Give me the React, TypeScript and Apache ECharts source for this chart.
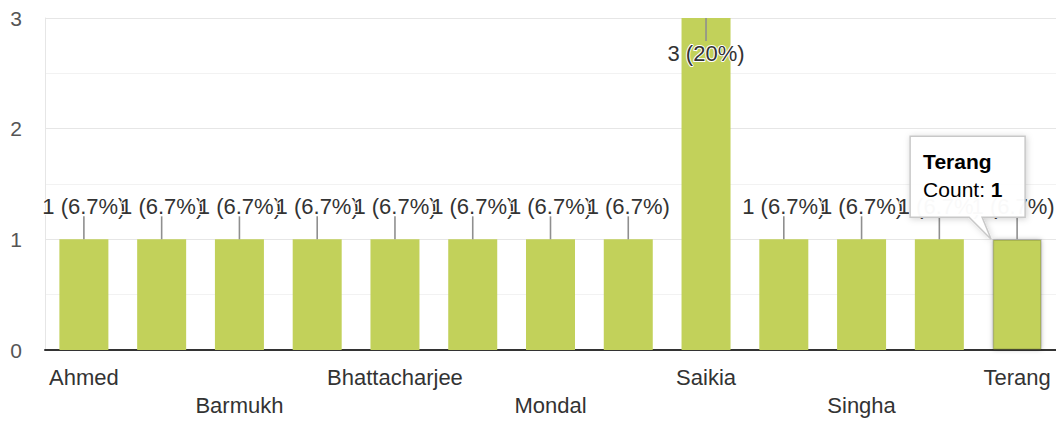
import React, { useEffect, useRef } from "react";
import * as echarts from "echarts";

const categories = [
  "Ahmed", "Ali", "Barmukh", "Baruah", "Bhattacharjee", "Das", "Mondal",
  "Nath", "Saikia", "Sarma", "Singha", "Talukdar", "Terang",
];
const counts = [1, 1, 1, 1, 1, 1, 1, 1, 3, 1, 1, 1, 1];
const yTicks = [0, 1, 2, 3];
const hoveredIndex = 12;

const FONT = "'Liberation Sans', Arial, Helvetica, sans-serif";
const BAR = "#c2d15a";

export default function App() {
  const ref = useRef<HTMLDivElement>(null);

  useEffect(() => {
    document.body.style.margin = "0";
    if (!ref.current) return;
    const chart = echarts.init(ref.current, null, { renderer: "svg" });
    const total = counts.reduce((a, b) => a + b, 0);
    const maxV = Math.max(...counts);
    const pct = (v: number) => Math.round((v / total) * 1000) / 10;

    const barData = counts.map((v, i) => {
      const inside = v === maxV;
      const item: any = {
        value: v,
        label: {
          position: inside ? "insideTop" : "top",
          distance: inside ? 24 : 22,
          offset: i === counts.length - 1 ? [-4, 0] : [0, 0],
        },
      };
      if (i === hoveredIndex) {
        item.itemStyle = {
          color: BAR,
          borderColor: "rgba(0,0,0,0.18)",
          borderWidth: 1.5,
          shadowBlur: 5,
          shadowColor: "rgba(0,0,0,0.3)",
        };
      }
      return item;
    });

    chart.setOption({
      animation: false,
      grid: { left: 45, right: 0, top: 18, bottom: 72, containLabel: false },
      xAxis: {
        type: "category",
        data: categories,
        axisLine: { show: true, lineStyle: { color: "#333333", width: 2 } },
        axisTick: { show: false },
        axisLabel: {
          interval: 1,
          fontFamily: FONT,
          fontSize: 22,
          color: "#333333",
          lineHeight: 28,
          margin: 13,
          formatter: (val: string, idx: number) => (idx % 4 === 2 ? "\n" + val : val),
        },
        splitLine: { show: false },
      },
      yAxis: {
        type: "value",
        min: yTicks[0],
        max: yTicks[yTicks.length - 1],
        interval: 1,
        axisLine: { show: true, lineStyle: { color: "#e6e6e6", width: 1 } },
        axisTick: { show: false },
        axisLabel: {
          fontFamily: FONT,
          fontSize: 21,
          color: "#555555",
          margin: 23,
        },
        splitLine: { show: true, lineStyle: { color: "#e6e6e6", width: 1 } },
        minorTick: { show: false, splitNumber: 2 },
        minorSplitLine: { show: true, lineStyle: { color: "#f2f2f2", width: 1 } },
      },
      series: [
        {
          type: "bar",
          data: barData,
          barWidth: 49,
          itemStyle: { color: BAR },
          label: {
            show: true,
            fontFamily: FONT,
            fontSize: 22,
            color: "#333333",
            textBorderColor: "#ffffff",
            textBorderWidth: 2,
            formatter: (p: any) => `${p.value} (${pct(p.value)}%)`,
          },
          z: 2,
        },
        {
          type: "custom",
          data: counts.map((v, i) => [i, v]),
          encode: { x: 0, y: 1 },
          z: 3,
          silent: true,
          renderItem: (params: any, api: any) => {
            const idx = api.value(0);
            const v = api.value(1);
            const top = api.coord([idx, v]);
            const dir = v === maxV ? 1 : -1;
            return {
              type: "line",
              shape: { x1: top[0], y1: top[1], x2: top[0], y2: top[1] + dir * 23 },
              style: { stroke: "#8f8f8f", lineWidth: 1.6 },
            };
          },
        },
      ],
    });

    const p = chart.convertToPixel({ gridIndex: 0 }, [hoveredIndex, counts[hoveredIndex]]) as number[];
    if (p && p.length === 2) {
      const ax = p[0];
      const ay = p[1];
      const L = ax - 107, R = ax + 8, T = ay - 103, B = ay - 22;
      const tipX = ax - 26, tipY = ay;
      chart.setOption({
        graphic: [
          {
            type: "polygon",
            z: 100,
            zlevel: 1,
            shape: {
              points: [
                [L, T], [R, T], [R, B], [ax - 35, B], [tipX, tipY], [ax - 48, B], [L, B],
              ],
            },
            style: {
              fill: "rgba(255,255,255,0.97)",
              stroke: "#c8c8c8",
              lineWidth: 1.5,
              shadowBlur: 6,
              shadowColor: "rgba(0,0,0,0.18)",
              shadowOffsetX: 1,
              shadowOffsetY: 1,
            },
          },
          {
            type: "text",
            z: 101,
            zlevel: 1,
            x: L + 13,
            y: T + 25,
            style: {
              text: categories[hoveredIndex],
              font: `bold 21px ${FONT}`,
              fill: "#000000",
              verticalAlign: "middle",
              align: "left",
            },
          },
          {
            type: "text",
            z: 101,
            zlevel: 1,
            x: L + 13,
            y: T + 53,
            style: {
              text: `{a|Count: }{b|${counts[hoveredIndex]}}`,
              verticalAlign: "middle",
              align: "left",
              rich: {
                a: { fontFamily: FONT, fontSize: 21, color: "#000000" },
                b: { fontFamily: FONT, fontSize: 21, fontWeight: "bold", color: "#000000" },
              },
            },
          },
        ],
      });
    }

    return () => chart.dispose();
  }, []);

  return (
    <div
      ref={ref}
      style={{ position: "absolute", left: 0, top: 0, width: 1056, height: 422, background: "#ffffff" }}
    />
  );
}
